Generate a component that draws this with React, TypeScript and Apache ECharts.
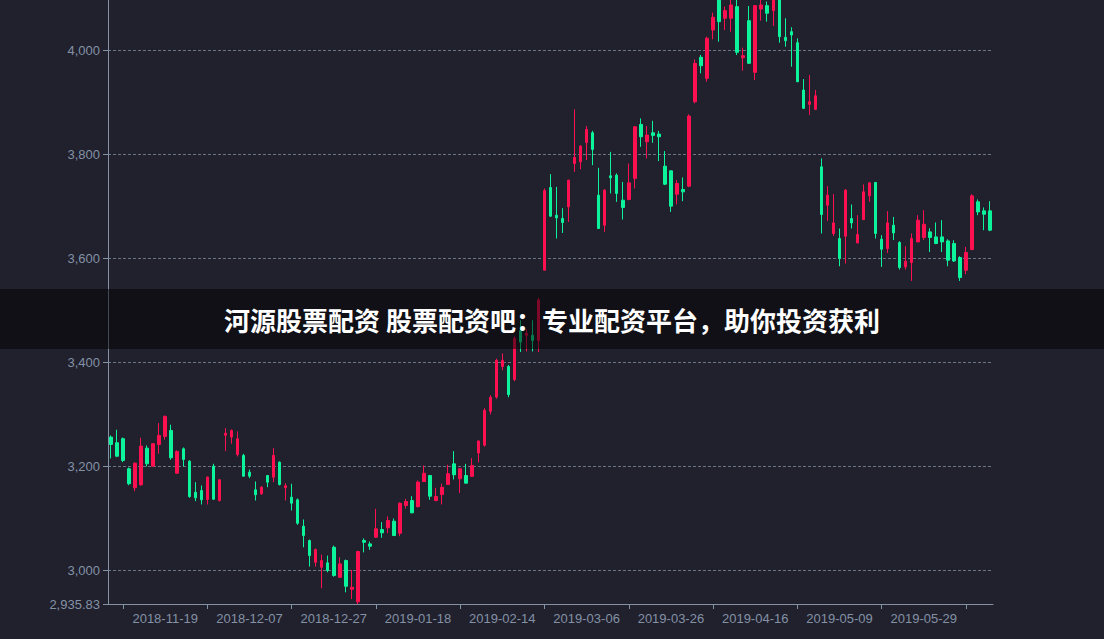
import React, { useEffect, useRef } from 'react';
import * as echarts from 'echarts';

const dates = [
  '2018-11-06','2018-11-07','2018-11-08','2018-11-09',
  '2018-11-12','2018-11-13','2018-11-14','2018-11-15','2018-11-16',
  '2018-11-19','2018-11-20','2018-11-21','2018-11-22','2018-11-23',
  '2018-11-26','2018-11-27','2018-11-28','2018-11-29','2018-11-30',
  '2018-12-03','2018-12-04','2018-12-05','2018-12-06','2018-12-07',
  '2018-12-10','2018-12-11','2018-12-12','2018-12-13','2018-12-14',
  '2018-12-17','2018-12-18','2018-12-19','2018-12-20','2018-12-21',
  '2018-12-24','2018-12-25','2018-12-26','2018-12-27','2018-12-28',
  '2019-01-02','2019-01-03','2019-01-04',
  '2019-01-07','2019-01-08','2019-01-09','2019-01-10','2019-01-11',
  '2019-01-14','2019-01-15','2019-01-16','2019-01-17','2019-01-18',
  '2019-01-21','2019-01-22','2019-01-23','2019-01-24','2019-01-25',
  '2019-01-28','2019-01-29','2019-01-30','2019-01-31','2019-02-01',
  '2019-02-11','2019-02-12','2019-02-13','2019-02-14','2019-02-15',
  '2019-02-18','2019-02-19','2019-02-20','2019-02-21','2019-02-22',
  '2019-02-25','2019-02-26','2019-02-27','2019-02-28','2019-03-01',
  '2019-03-04','2019-03-05','2019-03-06','2019-03-07','2019-03-08',
  '2019-03-11','2019-03-12','2019-03-13','2019-03-14','2019-03-15',
  '2019-03-18','2019-03-19','2019-03-20','2019-03-21','2019-03-22',
  '2019-03-25','2019-03-26','2019-03-27','2019-03-28','2019-03-29',
  '2019-04-01','2019-04-02','2019-04-03','2019-04-04',
  '2019-04-08','2019-04-09','2019-04-10','2019-04-11','2019-04-12',
  '2019-04-15','2019-04-16','2019-04-17','2019-04-18','2019-04-19',
  '2019-04-22','2019-04-23','2019-04-24','2019-04-25','2019-04-26',
  '2019-04-29','2019-04-30',
  '2019-05-06','2019-05-07','2019-05-08','2019-05-09','2019-05-10',
  '2019-05-13','2019-05-14','2019-05-15','2019-05-16','2019-05-17',
  '2019-05-20','2019-05-21','2019-05-22','2019-05-23','2019-05-24',
  '2019-05-27','2019-05-28','2019-05-29','2019-05-30','2019-05-31',
  '2019-06-03','2019-06-04','2019-06-05','2019-06-06',
  '2019-06-10','2019-06-11','2019-06-12','2019-06-13','2019-06-14'
];

const openValues = [
  3256.4,3245.6,3253.3,3195.6,3159.1,3164.8,3235.2,3200.6,3242.3,3257.7,
  3269.3,3187.2,3234.0,3210.2,3150.6,3153.9,3136.6,3200.6,3134.6,3260.0,
  3256.4,3223.1,3221.2,3189.0,3155.2,3147.5,3182.7,3179.5,3208.3,3159.1,
  3141.0,3136.0,3085.2,3057.7,3016.0,3006.4,3014.9,3044.8,2987.2,3019.3,
  2964.1,2940.0,3057.8,3051.3,3064.1,3078.9,3082.2,3094.9,3071.8,3125.0,
  3134.6,3123.0,3171.0,3182.7,3134.6,3146.0,3165.4,3205.0,3176.4,3182.7,
  3181.0,3226.0,3241.0,3306.0,3333.3,3392.0,3392.0,3367.0,3461.0,3452.0,
  3452.0,3442.0,3577.0,3735.9,3682.7,3676.4,3698.7,3782.1,3785.2,3822.5,
  3841.0,3721.2,3663.5,3758.3,3759.6,3711.5,3712.9,3753.3,3857.1,3823.7,
  3841.0,3838.5,3776.9,3767.9,3723.1,3732.1,3738.5,3900.6,3986.0,3945.6,
  4038.5,4105.0,4061.0,4061.0,4083.3,3985.2,4056.3,3957.1,4078.8,4085.2,
  4075.6,4108.0,4024.4,4035.2,4014.0,3923.1,3895.6,3886.0,3775.6,3701.9,
  3647.5,3637.9,3642.3,3676.4,3629.4,3674.4,3719.8,3745.6,3636.6,3618.6,
  3663.5,3630.2,3583.3,3591.7,3631.4,3639.8,3650.6,3641.0,3641.0,3633.3,
  3628.3,3601.4,3576.9,3616.7,3708.3,3691.0,3691.0
];

const closeValues = [
  3242.3,3219.8,3211.6,3166.8,3206.4,3239.1,3205.2,3243.7,3259.6,3296.2,
  3216.7,3228.9,3213.5,3142.3,3139.8,3136.0,3179.5,3137.1,3174.5,3264.0,
  3269.3,3253.3,3181.4,3181.4,3145.6,3160.2,3169.8,3221.2,3165.4,3162.9,
  3129.4,3091.0,3067.3,3028.9,3040.4,3019.3,3000.0,2990.4,3012.9,2969.9,
  2968.0,3036.6,3054.4,3046.8,3080.2,3072.5,3096.2,3067.3,3129.4,3132.7,
  3111.0,3170.0,3187.0,3142.9,3142.3,3160.0,3186.0,3184.0,3195.6,3168.0,
  3202.0,3249.0,3308.0,3333.0,3403.9,3404.0,3338.0,3446.0,3439.0,3456.0,
  3442.0,3520.0,3730.0,3680.8,3677.5,3668.7,3750.0,3793.6,3815.4,3847.5,
  3809.1,3657.1,3730.8,3754.4,3724.4,3697.5,3744.8,3852.5,3833.3,3836.5,
  3836.0,3833.3,3742.3,3700.0,3743.6,3727.5,3873.1,3974.4,3969.8,4022.5,
  4062.9,4054.4,4075.6,4086.5,3995.6,3989.0,3974.4,4085.2,4086.5,4070.6,
  4112.0,4025.6,4017.9,4028.8,3939.0,3887.9,3900.6,3912.1,3684.0,3721.2,
  3667.9,3599.4,3730.8,3667.9,3645.6,3727.5,3744.8,3647.5,3617.3,3667.9,
  3648.6,3582.1,3594.2,3637.9,3673.1,3665.4,3639.8,3628.3,3631.4,3596.2,
  3594.8,3562.9,3611.0,3719.8,3689.0,3684.6,3653.9
];

const lowValues = [
  3215.4,3217.9,3208.3,3164.0,3152.5,3162.9,3200.0,3200.0,3224.4,3251.4,
  3212.9,3186.0,3200.0,3139.8,3133.3,3127.0,3127.0,3135.6,3132.7,3229.5,
  3243.7,3219.2,3180.8,3177.5,3134.6,3145.6,3160.2,3169.8,3163.5,3134.6,
  3115.4,3087.9,3044.8,3007.7,3007.7,2966.0,2996.8,2988.5,2986.0,2958.3,
  2945.2,2935.83,3035.0,3039.8,3063.0,3063.0,3072.0,3067.0,3066.0,3119.0,
  3110.0,3121.0,3171.0,3136.0,3133.0,3127.0,3165.0,3175.0,3149.0,3167.0,
  3180.0,3208.0,3238.0,3300.0,3330.0,3385.0,3333.0,3364.0,3420.0,3421.0,
  3421.0,3420.0,3577.0,3679.4,3637.9,3648.6,3669.8,3766.0,3771.1,3788.5,
  3778.8,3657.0,3650.6,3724.4,3708.3,3674.4,3711.5,3734.0,3814.0,3791.7,
  3821.7,3786.6,3740.4,3689.0,3703.3,3709.6,3736.5,3897.5,3955.2,3939.0,
  4020.6,4016.0,4038.5,4035.2,3990.4,3960.2,3973.0,3942.3,4056.3,4054.4,
  4046.0,4014.0,4006.3,3967.9,3938.5,3886.5,3875.0,3884.6,3647.5,3671.7,
  3642.9,3584.6,3589.8,3657.1,3628.8,3673.1,3708.3,3637.9,3583.3,3610.2,
  3635.0,3578.3,3578.3,3556.4,3630.8,3635.0,3612.1,3627.0,3612.1,3584.6,
  3592.9,3556.4,3569.2,3615.4,3682.7,3653.9,3652.0
];

const highValues = [
  3259.6,3270.6,3255.8,3198.0,3207.7,3255.2,3240.4,3244.0,3283.3,3298.0,
  3280.2,3231.0,3236.5,3212.0,3169.8,3163.5,3180.8,3205.2,3175.0,3273.7,
  3271.0,3267.3,3224.4,3194.2,3171.2,3162.1,3183.7,3235.2,3209.6,3167.9,
  3166.8,3138.5,3098.1,3059.6,3042.3,3030.8,3028.9,3048.0,3025.6,3021.2,
  3001.4,3038.0,3062.0,3055.8,3118.7,3093.0,3104.0,3100.0,3131.0,3138.0,
  3143.0,3173.0,3202.0,3183.5,3159.0,3167.0,3203.3,3229.5,3196.0,3205.0,
  3216.0,3250.0,3312.0,3337.0,3407.0,3417.0,3395.0,3450.0,3481.0,3463.0,
  3481.0,3524.0,3734.0,3761.5,3737.1,3696.2,3751.0,3886.0,3817.3,3853.9,
  3844.8,3773.7,3732.7,3804.4,3762.9,3746.7,3782.1,3853.9,3868.6,3853.9,
  3864.0,3844.8,3805.8,3769.2,3750.0,3755.2,3876.4,3982.0,3990.4,4025.6,
  4071.7,4126.09,4083.3,4098.0,4097.0,4004.4,4084.6,4086.5,4098.0,4093.0,
  4120.0,4112.0,4061.0,4043.7,4022.5,3944.2,3951.9,3923.1,3791.7,3738.5,
  3723.1,3657.1,3732.7,3703.3,3682.7,3741.7,3746.2,3746.2,3644.2,3690.4,
  3679.4,3632.7,3623.1,3647.5,3682.7,3692.3,3657.7,3668.7,3673.1,3636.5,
  3634.6,3603.9,3621.8,3723.1,3712.9,3697.5,3709.6
];

const titleText = '河源股票配资 股票配资吧：专业配资平台，助你投资获利';

// value shown at the (visible) top edge of the plot
const yAxisTop = 4096.05;

const UP = '#FD1050';
const DOWN = '#0CF49B';
const AXIS = '#8392A5';

export default function App() {
  const ref = useRef<HTMLDivElement>(null);

  useEffect(() => {
    if (!ref.current) return;
    const chart = echarts.init(ref.current, null, { renderer: 'svg' });
    const candles = dates.map((_, i) => [openValues[i], closeValues[i], lowValues[i], highValues[i]]);
    chart.setOption({
      animation: false,
      backgroundColor: '#21202D',
      grid: { left: 108, right: 111, top: 0, bottom: 35 },
      xAxis: {
        type: 'category',
        data: dates,
        axisLine: { lineStyle: { color: AXIS } },
        axisTick: {
          show: true,
          alignWithLabel: true,
          interval: (i: number) => (i - 2) % 14 === 0,
        },
        axisLabel: {
          color: AXIS,
          fontSize: 13,
          interval: (i: number) => (i - 9) % 14 === 0,
        },
        splitLine: { show: false },
      },
      yAxis: {
        type: 'value',
        min: 'dataMin',
        max: yAxisTop,
        axisLine: { show: true, lineStyle: { color: AXIS } },
        axisTick: { show: true, lineStyle: { color: AXIS } },
        axisLabel: { color: AXIS, fontSize: 13, showMaxLabel: false },
        splitLine: {
          show: true,
          showMaxLine: false,
          lineStyle: { type: [3, 2], color: AXIS, opacity: 0.75 },
        },
      },
      series: [
        {
          type: 'candlestick',
          data: candles,
          clip: true,
          itemStyle: {
            color: UP,
            color0: DOWN,
            borderColor: UP,
            borderColor0: DOWN,
          },
        },
      ],
      graphic: [
        {
          type: 'rect',
          x: 0,
          y: 289,
          z: 100,
          shape: { width: 1104, height: 60 },
          style: { fill: 'rgba(0,0,0,0.5)' },
        },
        {
          type: 'text',
          x: 552,
          y: 319,
          z: 101,
          style: {
            text: titleText,
            fill: '#ffffff',
            fontSize: 26,
            fontWeight: 'bold',
            fontFamily: '"Noto Sans CJK SC", sans-serif',
            align: 'center',
            verticalAlign: 'middle',
            shadowColor: 'rgba(0,0,0,0.7)',
            shadowBlur: 3,
          },
        },
      ],
    });
    return () => chart.dispose();
  }, []);

  return (
    <div
      ref={ref}
      style={{ position: 'fixed', left: 0, top: 0, width: 1104, height: 639 }}
    />
  );
}
